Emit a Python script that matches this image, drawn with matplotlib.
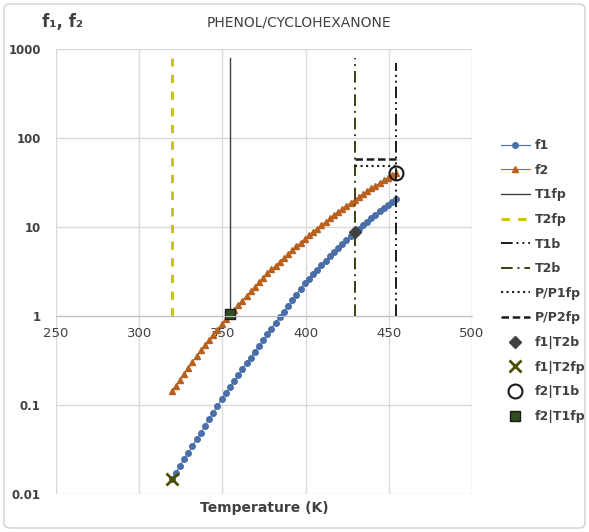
import numpy as np
import matplotlib
matplotlib.use("Agg")
import matplotlib.pyplot as plt
from matplotlib.patches import FancyBboxPatch
from matplotlib.ticker import FixedLocator, FixedFormatter, NullLocator

# temperature grid (K) of the f1 / f2 series
temp = [319.5, 322.0, 324.5, 327.0, 329.5, 332.0, 334.5, 337.0, 339.5, 342.0,
        344.5, 347.0, 349.5, 352.0, 354.5, 357.0, 359.5, 362.0, 364.5, 367.0,
        369.5, 372.0, 374.5, 377.0, 379.5, 382.0, 384.5, 387.0, 389.5, 392.0,
        394.5, 397.0, 399.5, 402.0, 404.5, 407.0, 409.5, 412.0, 414.5, 417.0,
        419.5, 422.0, 424.5, 427.0, 429.5, 432.0, 434.5, 437.0, 439.5, 442.0,
        444.5, 447.0, 449.5, 452.0, 454.5]

f1 = [0.0146, 0.0174, 0.0207, 0.0245, 0.0292, 0.0347, 0.0412, 0.0490, 0.0582, 0.0692,
      0.0822, 0.0977, 0.116, 0.136, 0.158, 0.185, 0.215, 0.251, 0.293, 0.341,
      0.397, 0.461, 0.535, 0.621, 0.721, 0.836, 0.970, 1.12, 1.30, 1.50,
      1.74, 2.01, 2.33, 2.63, 2.95, 3.31, 3.72, 4.17, 4.68, 5.20,
      5.78, 6.41, 7.13, 7.93, 8.77, 9.59, 10.5, 11.5, 12.6, 13.8,
      15.0, 16.2, 17.5, 19.0, 20.6]

f2 = [0.142, 0.165, 0.192, 0.224, 0.261, 0.305, 0.355, 0.410, 0.470, 0.537,
      0.614, 0.703, 0.804, 0.918, 1.047, 1.178, 1.324, 1.489, 1.679, 1.888,
      2.123, 2.388, 2.685, 3.020, 3.334, 3.681, 4.064, 4.487, 4.955, 5.470,
      6.039, 6.668, 7.362, 8.072, 8.810, 9.616, 10.50, 11.46, 12.50, 13.58,
      14.69, 15.96, 17.26, 18.71, 20.23, 21.78, 23.44, 25.23, 27.10, 29.17,
      31.19, 33.34, 35.65, 38.02, 40.64]

# characteristic temperatures (K)
T1fp = 354.5
T2fp = 319.5
T1b = 454.5
T2b = 429.5

# vertical line extents (y from, y to)
T1fp_y = [1.05, 800]
T2fp_y = [1.0, 800]
T1b_y = [1.0, 700]
T2b_y = [1.0, 800]

# P/P1fp and P/P2fp horizontal levels between T2b and T1b
p1_x = [T2b, T1b]
p1_y = [49, 49]
p2_x = [T2b, T1b]
p2_y = [58, 58]

# highlighted points
f1_T2b = (T2b, 8.77)
f1_T2fp = (T2fp, 0.0146)
f2_T1b = (T1b, 40.64)
f2_T1fp = (T1fp, 1.047)

yticks = [0.01, 0.1, 1, 10, 100, 1000]
ytick_labels = ["0.01", "0.1", "1", "10", "100", "1000"]
xticks = [250, 300, 350, 400, 450, 500]

txt = "#404040"
grid_c = "#d9d9d9"

fig = plt.figure(figsize=(5.89, 5.32), dpi=100)
ax = fig.add_axes([56 / 589, 1 - 494 / 532, (472 - 56) / 589, (494 - 49) / 532])

ax.plot(temp, f1, "-o", color="#4a6ea8", ms=4, lw=0.8, label="f1")
ax.plot(temp, f2, "-^", color="#b8601e", ms=4.5, lw=0.8, label="f2")
ax.plot([T1fp, T1fp], T1fp_y, "-", color="#404040", lw=1.0, label="T1fp")
ax.plot([T2fp, T2fp], T2fp_y, "--", color="#c8c000", lw=2.0, dashes=(3, 3), label="T2fp")
ax.plot([T1b, T1b], T1b_y, color="#1a1a1a", lw=1.4, dashes=(6, 2, 1, 2, 1, 2), label="T1b")
ax.plot([T2b, T2b], T2b_y, color="#3d3d10", lw=1.4, dashes=(6, 2.5, 1, 2.5), label="T2b")
ax.plot(p1_x, p1_y, ":", color="#1a1a1a", lw=1.5, label="P/P1fp")
ax.plot(p2_x, p2_y, "--", color="#1a1a1a", lw=1.8, dashes=(3, 1.5), label="P/P2fp")
ax.plot(*f1_T2b, "D", color="#404040", ms=6, ls="none", label="f1|T2b")
ax.plot(*f1_T2fp, "x", color="#4d4d00", ms=8, mew=2, ls="none", label="f1|T2fp")
ax.plot(*f2_T1b, "o", mfc="none", mec="#1a1a1a", ms=10, mew=1.5, ls="none", label="f2|T1b")
ax.plot(*f2_T1fp, "s", color="#2f4f1f", mec="#1a1a1a", ms=7, ls="none", label="f2|T1fp")

ax.set_yscale("log")
ax.set_xlim(250, 500)
ax.set_ylim(0.01, 1000)
ax.yaxis.set_major_locator(FixedLocator(yticks))
ax.yaxis.set_major_formatter(FixedFormatter(ytick_labels))
ax.yaxis.set_minor_locator(NullLocator())
ax.set_xticks(xticks)
ax.grid(True, color=grid_c, lw=1)
ax.set_axisbelow(True)

for s in ("top", "right", "left"):
    ax.spines[s].set_visible(False)
ax.spines["bottom"].set_position(("data", 1))
ax.spines["bottom"].set_color("#bfbfbf")
ax.tick_params(axis="both", length=0, colors=txt)
ax.tick_params(axis="x", labelsize=9.5, pad=8)
ax.tick_params(axis="y", labelsize=8.5, pad=11)
for lab in ax.get_yticklabels():
    lab.set_fontweight("bold")

fig.text(0.508, 1 - 22 / 532, "PHENOL/CYCLOHEXANONE", ha="center", va="center",
         fontsize=10, color=txt)
fig.text(42 / 589, 1 - 22 / 532, "f\u2081, f\u2082", ha="left", va="center",
         fontsize=12, fontweight="bold", color=txt)
fig.text(264 / 589, 1 - 508 / 532, "Temperature (K)", ha="center", va="center",
         fontsize=10, fontweight="bold", color=txt)

leg = fig.legend(loc="upper left", bbox_to_anchor=(496 / 589, 1 - 134 / 532),
                 frameon=False, fontsize=9, handlelength=2.3, handletextpad=0.4,
                 labelspacing=0.93, borderaxespad=0)
for t in leg.get_texts():
    t.set_color(txt)
    t.set_fontweight("bold")

fig.patches.append(FancyBboxPatch((4 / 589, 4 / 532), 581 / 589, 524 / 532,
                                  boxstyle="round,pad=0,rounding_size=0.01",
                                  transform=fig.transFigure, fill=False,
                                  edgecolor="#d0d0d0", lw=1))

fig.savefig("out.png", dpi=100)
